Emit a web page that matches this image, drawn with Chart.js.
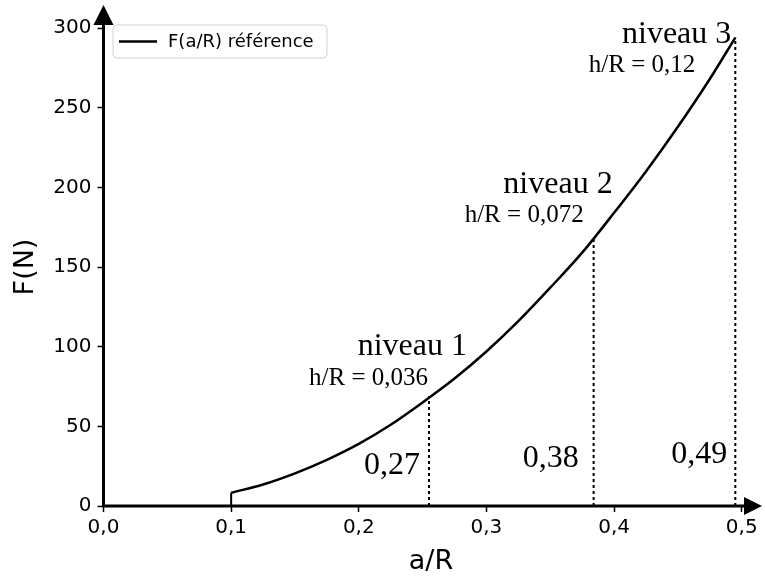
<!DOCTYPE html>
<html>
<head>
<meta charset="UTF-8">
<script src="https://cdn.jsdelivr.net/npm/chart.js"></script>
<style>
  html, body { margin: 0; padding: 0; background: #fff; }
</style>
</head>
<body>
<canvas id="chart" width="765" height="576"></canvas>
<script>
// courbe F(a/R)
const curveA = [0.100, 0.125, 0.150, 0.175, 0.200, 0.225, 0.250, 0.275, 0.300, 0.325, 0.350, 0.375, 0.400, 0.425, 0.450, 0.475, 0.495];
const curveF = [8.3, 13.5, 20.5, 29, 39, 51, 65, 80, 97, 116, 137, 159, 184, 210, 238, 268, 294];

// niveaux (traits pointillés)
const levelA = [0.255, 0.384, 0.495];
const levelF = [69, 168, 294];
const levelNames = ['niveau 1', 'niveau 2', 'niveau 3'];
const levelRatios = ['h/R = 0,036', 'h/R = 0,072', 'h/R = 0,12'];
const levelValues = ['0,27', '0,38', '0,49'];

const xTicks = [0, 0.1, 0.2, 0.3, 0.4, 0.5];
const yTicks = [0, 50, 100, 150, 200, 250, 300];
const seriesLabel = 'F(a/R) référence';

const tickFont = { family: 'DejaVu Sans', size: 20 };
const serif = '"Liberation Serif", "Times New Roman", serif';

const datasets = [{
    label: seriesLabel,
    data: curveA.map((a, i) => ({ x: a, y: curveF[i] })),
    borderColor: '#000',
    borderWidth: 2.5,
    pointRadius: 0,
    cubicInterpolationMode: 'monotone',
    fill: false
}, {
    // petit trait vertical au début de la courbe
    label: 'départ',
    data: [{ x: curveA[0], y: 0 }, { x: curveA[0], y: curveF[0] }],
    borderColor: '#000',
    borderWidth: 2,
    pointRadius: 0,
    fill: false
}];
levelA.forEach((a, i) => {
    datasets.push({
        label: levelNames[i],
        data: [{ x: a, y: 0 }, { x: a, y: levelF[i] }],
        borderColor: '#000',
        borderWidth: 2,
        borderDash: [3, 3],
        pointRadius: 0,
        fill: false
    });
});

// décalages des textes par rapport au haut du pointillé (px)
const nameOff = [[38, -41], [19, -45], [-4, 5]];
const ratioOff = [[-1, -11], [-10, -16], [-40, 34]];
const valueOff = [[-9, -32], [-15, -39], [-8, -43]];

const decorPlugin = {
    id: 'decor',
    afterDraw(chart) {
        const ctx = chart.ctx;
        const xs = chart.scales.x, ys = chart.scales.y;
        const x0 = xs.getPixelForValue(0), y0 = ys.getPixelForValue(0);
        ctx.save();

        // axes avec flèches
        ctx.strokeStyle = '#000';
        ctx.fillStyle = '#000';
        ctx.lineWidth = 3;
        ctx.beginPath();
        ctx.moveTo(x0, y0);
        ctx.lineTo(748, y0);
        ctx.moveTo(x0, y0);
        ctx.lineTo(x0, 20);
        ctx.stroke();
        ctx.beginPath();
        ctx.moveTo(762, y0);
        ctx.lineTo(744, y0 - 9);
        ctx.lineTo(744, y0 + 9);
        ctx.closePath();
        ctx.fill();
        ctx.beginPath();
        ctx.moveTo(x0, 5);
        ctx.lineTo(x0 - 10, 25);
        ctx.lineTo(x0 + 10, 25);
        ctx.closePath();
        ctx.fill();

        // titre de l'axe x
        ctx.font = '27px "DejaVu Sans"';
        ctx.textAlign = 'center';
        ctx.textBaseline = 'middle';
        ctx.fillText('a/R', 431, 562);

        // annotations des niveaux
        ctx.textAlign = 'right';
        ctx.textBaseline = 'alphabetic';
        levelA.forEach((a, i) => {
            const px = xs.getPixelForValue(a);
            const py = ys.getPixelForValue(levelF[i]);
            ctx.font = '32px ' + serif;
            ctx.fillText(levelNames[i], px + nameOff[i][0], py + nameOff[i][1]);
            ctx.fillText(levelValues[i], px + valueOff[i][0], y0 + valueOff[i][1]);
            ctx.font = '25px ' + serif;
            ctx.fillText(levelRatios[i], px + ratioOff[i][0], py + ratioOff[i][1]);
        });

        // légende
        const lx = x0 + 9.5, ly = 25, lw = 214, lh = 33;
        ctx.fillStyle = 'rgba(255,255,255,0.8)';
        ctx.strokeStyle = '#d0d0d0';
        ctx.lineWidth = 1;
        ctx.beginPath();
        ctx.roundRect(lx, ly, lw, lh, 4);
        ctx.fill();
        ctx.stroke();
        ctx.strokeStyle = '#000';
        ctx.lineWidth = 2.5;
        ctx.beginPath();
        ctx.moveTo(lx + 6, ly + 16.5);
        ctx.lineTo(lx + 44, ly + 16.5);
        ctx.stroke();
        ctx.fillStyle = '#000';
        ctx.font = '18px "DejaVu Sans"';
        ctx.textAlign = 'left';
        ctx.textBaseline = 'middle';
        ctx.fillText(seriesLabel, lx + 55, ly + 17);
        ctx.restore();
    }
};

new Chart(document.getElementById('chart'), {
    type: 'line',
    data: { datasets },
    options: {
        responsive: false,
        animation: false,
        layout: { padding: { top: 28, right: 23.3, left: 0, bottom: 0 } },
        plugins: { legend: { display: false }, tooltip: { enabled: false } },
        scales: {
            x: {
                type: 'linear',
                min: 0,
                max: 0.5,
                afterBuildTicks: s => { s.ticks = xTicks.map(v => ({ value: v })); },
                afterFit: s => { s.height = 70; },
                ticks: {
                    color: '#000',
                    font: tickFont,
                    padding: 4,
                    callback: v => v.toFixed(1).replace('.', ',')
                },
                grid: { drawOnChartArea: false, tickLength: 6, tickWidth: 1.5, tickColor: '#000' },
                border: { display: false },
                title: { display: false }
            },
            y: {
                type: 'linear',
                min: 0,
                max: 300,
                afterBuildTicks: s => { s.ticks = yTicks.map(v => ({ value: v })); },
                afterFit: s => { s.width = 103.5; },
                ticks: { color: '#000', font: tickFont, padding: 6 },
                grid: { drawOnChartArea: false, tickLength: 6, tickWidth: 1.5, tickColor: '#000' },
                border: { display: false },
                title: {
                    display: true, text: 'F(N)', color: '#000',
                    font: { family: 'DejaVu Sans', size: 27, lineHeight: 1 },
                    padding: { top: 12.5, bottom: 0 }
                }
            }
        }
    },
    plugins: [decorPlugin]
});
</script>
</body>
</html>
